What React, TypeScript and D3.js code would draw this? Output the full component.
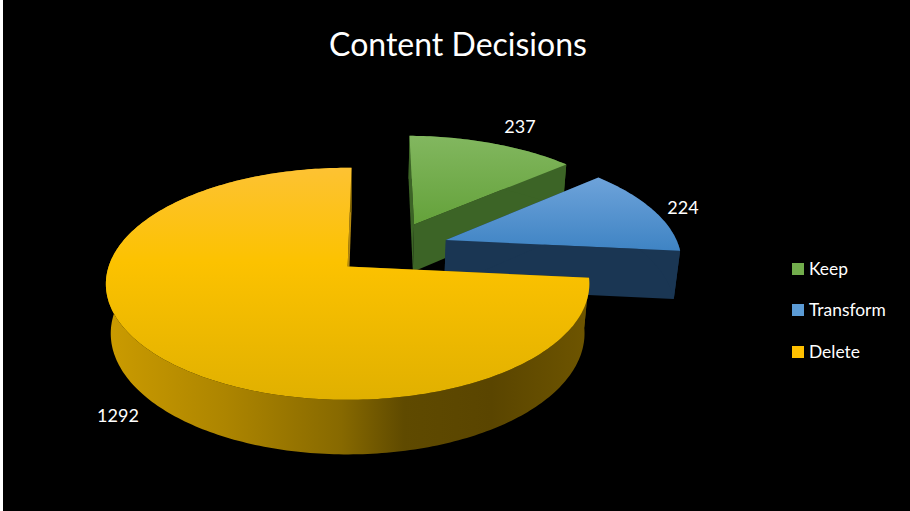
import React from "react";
import * as d3 from "d3";

const categories = ["Keep", "Transform", "Delete"];
const values = [237, 224, 1292];
const title = "Content Decisions";
const topStops = [
  ["#82b75f", "#5f9e34"],
  ["#6ea3da", "#3f84c4"],
  ["#fdc232", "#fcc200", "#e0b000"],
];
const wallColors = ["#3c6426", "#1a3653"];
const yellowWall = [
  [0, "#cc9c00"],
  [0.25, "#ad8500"],
  [0.49, "#876900"],
  [0.62, "#5f4a00"],
  [0.8, "#5a4500"],
  [1, "#6e5500"],
] as [number, string][];
const legendColors = ["#72ad4c", "#5b9bd5", "#ffc000"];
const labelPos = [
  [520, 133],
  [683, 214],
  [118, 422],
];
const legendY = [269, 310, 352];

const W = 910, H = 511;
const ox = 349.5, oy = 268;
const B = 239.5, A = 113.9, K = 0.1502, C = 50.2, M = 0.02;
const centerU = 0.179, centerV = -0.18, explode = 0.25;
const rotation = (1.0 * Math.PI) / 180;

function project(u: number, v: number, h: number): [number, number] {
  const w = 1 - K * v + M * h;
  return [ox + (B * u) / w, oy + (A * v + C * h) / w];
}

const slices = d3
  .pie<number>()
  .sort(null)
  .startAngle(rotation)
  .endAngle(rotation + 2 * Math.PI)(values);

const line = d3.line();

function sliceGeom(s: d3.PieArcDatum<number>) {
  const mid = (s.startAngle + s.endAngle) / 2;
  const au = centerU + explode * Math.sin(mid);
  const av = centerV - explode * Math.cos(mid);
  const n = Math.max(8, Math.round(((s.endAngle - s.startAngle) * 180) / Math.PI));
  const angles = d3.range(n + 1).map((i) => s.startAngle + ((s.endAngle - s.startAngle) * i) / n);
  const rim = (h: number) =>
    angles.map((a) => project(au + Math.sin(a), av - Math.cos(a), h));
  const apex = (h: number) => project(au, av, h);
  const r0 = rim(0), r1 = rim(1);
  const top = line([apex(0), ...r0]) + "Z";
  // outer wall as a strip of quads, so the silhouette between the two rims is filled
  const outer = d3
    .range(n)
    .map((i) => line([r0[i], r0[i + 1], r1[i + 1], r1[i]]) + "Z")
    .join("");
  const startWall = line([apex(0), r0[0], r1[0], apex(1)]) + "Z";
  const endWall = line([apex(0), r0[n], r1[n], apex(1)]) + "Z";
  return { top, outer, startWall, endWall };
}

const geoms = slices.map(sliceGeom);
const font = "Lato, 'Open Sans', sans-serif";

export default function App() {
  return (
    <svg
      width={W}
      height={H}
      viewBox={`0 0 ${W} ${H}`}
      style={{ position: "fixed", left: 0, top: 0, display: "block", background: "#fff" }}
    >
      <defs>
        {topStops.map((st, i) => (
          <linearGradient
            key={i}
            id={`top${i}`}
            gradientUnits="userSpaceOnUse"
            x1={0}
            x2={0}
            y1={i === 2 ? 169 : i === 0 ? 136 : 177}
            y2={i === 2 ? 402 : i === 0 ? 240 : 250}
          >
            {st.map((c, j) => (
              <stop key={j} offset={st.length === 3 ? [0, 0.4, 1][j] : j} stopColor={c} />
            ))}
          </linearGradient>
        ))}
        <linearGradient id="wall2" gradientUnits="userSpaceOnUse" x1={104} x2={588} y1={0} y2={0}>
          {yellowWall.map(([o, c], j) => (
            <stop key={j} offset={o} stopColor={c} />
          ))}
        </linearGradient>
      </defs>
      <rect x={3} y={0} width={W - 3} height={H} fill="#000" />
      {geoms.map((g, i) => {
        const wall = i === 2 ? "url(#wall2)" : wallColors[i];
        return (
          <g key={categories[i]}>
            <path d={g.endWall} fill={i === 2 ? "#b58a10" : wall} />
            <path d={g.startWall} fill={wall} />
            <path d={g.outer} fill={wall} />
            <path d={g.top} fill={`url(#top${i})`} />
          </g>
        );
      })}
      <text x={458} y={56} textAnchor="middle" fill="#fff" fontFamily={font} fontSize={32}>
        {title}
      </text>
      {values.map((v, i) => (
        <text
          key={i}
          x={labelPos[i][0]}
          y={labelPos[i][1]}
          textAnchor="middle"
          fill="#fff"
          fontFamily={font}
          fontSize={18}
        >
          {v}
        </text>
      ))}
      {categories.map((c, i) => (
        <g key={c}>
          <rect x={792} y={legendY[i] - 6} width={12} height={12} fill={legendColors[i]} />
          <text x={809} y={legendY[i] + 6} fill="#fff" fontFamily={font} fontSize={17.4}>
            {c}
          </text>
        </g>
      ))}
    </svg>
  );
}
